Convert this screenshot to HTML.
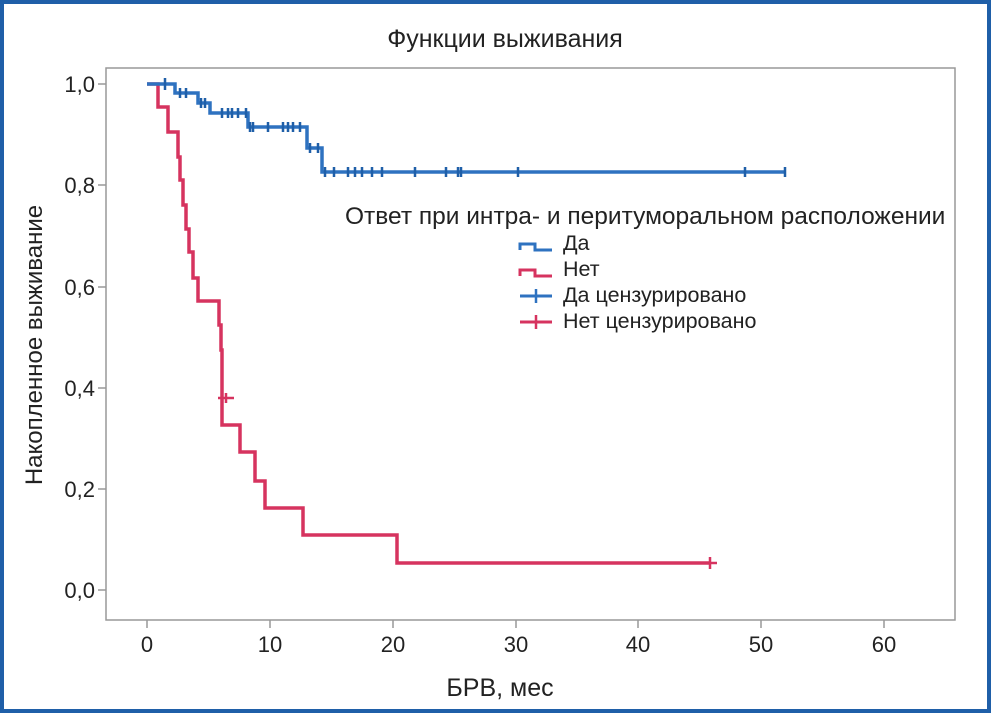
<!DOCTYPE html>
<html><head><meta charset="utf-8"><style>
html,body{margin:0;padding:0;background:#fff}
svg{display:block}
text{font-family:"Liberation Sans Narrow","Liberation Sans",sans-serif;fill:#222}
</style></head><body>
<svg width="991" height="713" viewBox="0 0 991 713">
<rect x="2" y="2" width="987" height="709" fill="#fff" stroke="#1f5fa8" stroke-width="4"/>
<text x="505" y="47" font-size="25" text-anchor="middle">Функции выживания</text>
<rect x="106" y="68" width="849" height="552" fill="none" stroke="#999" stroke-width="1.5"/>
<g stroke="#999" stroke-width="1.5">
<line x1="98" y1="84" x2="106" y2="84"/><line x1="98" y1="185" x2="106" y2="185"/><line x1="98" y1="287" x2="106" y2="287"/><line x1="98" y1="388" x2="106" y2="388"/><line x1="98" y1="489" x2="106" y2="489"/><line x1="98" y1="590" x2="106" y2="590"/>
<line x1="147" y1="620" x2="147" y2="628"/><line x1="270" y1="620" x2="270" y2="628"/><line x1="393" y1="620" x2="393" y2="628"/><line x1="516" y1="620" x2="516" y2="628"/><line x1="638" y1="620" x2="638" y2="628"/><line x1="761" y1="620" x2="761" y2="628"/><line x1="884" y1="620" x2="884" y2="628"/>
</g>
<g font-size="22" text-anchor="end">
<text x="95" y="92">1,0</text><text x="95" y="193">0,8</text><text x="95" y="295">0,6</text><text x="95" y="396">0,4</text><text x="95" y="497">0,2</text><text x="95" y="598">0,0</text>
</g>
<g font-size="22" text-anchor="middle">
<text x="147" y="652">0</text><text x="270" y="652">10</text><text x="393" y="652">20</text><text x="516" y="652">30</text><text x="638" y="652">40</text><text x="761" y="652">50</text><text x="884" y="652">60</text>
</g>
<text x="500" y="696" font-size="25" text-anchor="middle">БРВ, мес</text>
<text transform="translate(42,345) rotate(-90)" font-size="24" text-anchor="middle">Накопленное выживание</text>
<path d="M147,84 H158 V107 H168 V132 H178 V157 H180 V180 H183 V205 H186 V229 H189 V252 H193 V278 H198 V301 H219 V325 H221 V350 H222 V425 H240 V452 H255 V481 H265 V508 H303 V535 H397 V563 H710" fill="none" stroke="#d6335f" stroke-width="3.5"/>
<g stroke="#d6335f" stroke-width="2.5"><line x1="218" y1="398" x2="234" y2="398"/><line x1="226" y1="393" x2="226" y2="403"/><line x1="703" y1="563" x2="717" y2="563"/><line x1="710" y1="557" x2="710" y2="569"/></g>
<path d="M147,84 H175 V93 H198 V103 H210 V113 H248 V127 H307 V148 H322 V172 H785" fill="none" stroke="#2e72c0" stroke-width="3.5"/>
<g stroke="#1f5fa8" stroke-width="2.5">
<path d="M165,78V90 M180,88V98 M186,88V98 M201,98V108 M205,98V108 M222,108V118 M228,108V118 M232,108V118 M238,108V118 M246,108V118 M250,122V132 M253,122V132 M268,122V132 M283,122V132 M288,122V132 M293,122V132 M300,122V132 M310,143V153 M318,143V153 M325,167V177 M334,167V177 M348,167V177 M355,167V177 M362,167V177 M372,167V177 M382,167V177 M415,167V177 M446,167V177 M458,167V177 M461,167V177 M518,167V177 M745,167V177 M785,167V177"/>
</g>
<text x="345" y="224" font-size="24.5">Ответ при интра- и перитуморальном расположении</text>
<g font-size="21.5">
<text x="563" y="250">Да</text><text x="563" y="276">Нет</text><text x="563" y="302">Да цензурировано</text><text x="563" y="328">Нет цензурировано</text>
</g>
<path d="M520,250 V244 H535 V250 H552" fill="none" stroke="#2e72c0" stroke-width="3"/>
<path d="M520,276 V270 H535 V276 H552" fill="none" stroke="#d6335f" stroke-width="3"/>
<line x1="520" y1="296" x2="552" y2="296" stroke="#2e72c0" stroke-width="3"/><line x1="536" y1="289" x2="536" y2="303" stroke="#2e72c0" stroke-width="2.5"/>
<line x1="520" y1="322" x2="552" y2="322" stroke="#d6335f" stroke-width="3"/><line x1="536" y1="315" x2="536" y2="329" stroke="#d6335f" stroke-width="2.5"/>
</svg>
</body></html>
